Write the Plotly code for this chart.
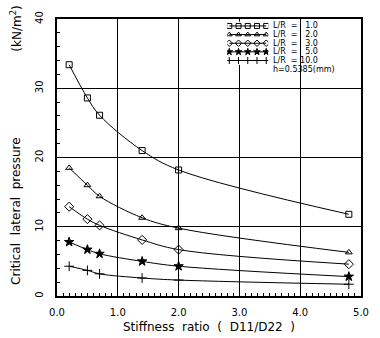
import plotly.graph_objects as go

stiffness = [0.2, 0.5, 0.7, 1.4, 2.0, 4.8]
p_lr1 = [33.4, 28.6, 26.1, 21.0, 18.2, 11.8]
p_lr2 = [18.5, 16.0, 14.4, 11.3, 9.8, 6.3]
p_lr3 = [12.9, 11.1, 10.2, 8.1, 6.7, 4.6]
p_lr5 = [7.8, 6.7, 6.1, 5.0, 4.3, 2.8]
p_lr10 = [4.3, 3.7, 3.2, 2.6, 2.3, 1.7]

series_names = ["L/R  =   1.0", "L/R  =   2.0", "L/R  =   3.0", "L/R  =   5.0", "L/R  = 10.0"]
series_vals = [p_lr1, p_lr2, p_lr3, p_lr5, p_lr10]
symbols = ["square-open", "triangle-up-open", "diamond-open", "star", "cross-thin-open"]
sizes = [6, 6, 7, 7, 7]

legend_x = [0.05, 0.275, 0.5, 0.725, 0.95]

FONT = "DejaVu Sans"
fig = go.Figure()

for vals, sym, sz in zip(series_vals, symbols, sizes):
    fig.add_trace(go.Scatter(
        x=stiffness, y=vals, mode="lines+markers",
        line=dict(color="black", width=1, shape="spline", smoothing=1.0),
        marker=dict(symbol=sym, size=sz, color="black", line=dict(color="black", width=1)),
        showlegend=False, xaxis="x", yaxis="y"))

# legend samples on an overlay axis
rows = [5, 4, 3, 2, 1]
for i, (name, sym, sz) in enumerate(zip(series_names, symbols, sizes)):
    fig.add_trace(go.Scatter(
        x=legend_x, y=[rows[i]] * len(legend_x), mode="lines+markers",
        line=dict(color="black", width=1),
        marker=dict(symbol=sym, size=5, color="black", line=dict(color="black", width=1)),
        showlegend=False, xaxis="x2", yaxis="y2", hoverinfo="skip"))

fig.update_layout(
    width=380, height=338,
    margin=dict(l=57, r=11, t=16, b=42),
    paper_bgcolor="white", plot_bgcolor="white",
    font=dict(family=FONT, color="black", size=10),
    xaxis=dict(range=[0, 5], dtick=1, tickformat=".1f", showgrid=True, gridcolor="black", gridwidth=1,
               zeroline=False, showline=True, linecolor="black", linewidth=1.5, mirror=True,
               ticks="inside", ticklen=6, tickcolor="black",
               minor=dict(dtick=0.1, ticks="inside", ticklen=3, tickcolor="black", showgrid=False),
               tickfont=dict(size=10, family=FONT), ticklabelstandoff=6),
    yaxis=dict(range=[0, 40], dtick=10, showgrid=True, gridcolor="black", gridwidth=1,
               zeroline=False, showline=True, linecolor="black", linewidth=1.5, mirror=True,
               ticks="inside", ticklen=6, tickcolor="black",
               minor=dict(dtick=2, ticks="inside", ticklen=3, tickcolor="black", showgrid=False),
               tickangle=-90, tickfont=dict(size=10, family=FONT), ticklabelstandoff=8),
    xaxis2=dict(domain=[0.56, 0.695], range=[0, 1], visible=False, anchor="y2"),
    yaxis2=dict(domain=[0.8345, 0.9905], range=[0.5, 5.5], visible=False, anchor="x2"),
)

ann = []
label_y = [0.975, 0.944, 0.913, 0.881, 0.850]
for name, yy in zip(series_names, label_y):
    ann.append(dict(text=name, x=0.705, y=yy, xref="paper", yref="paper", xanchor="left", yanchor="middle",
                    showarrow=False, font=dict(size=8, family=FONT)))
ann.append(dict(text="h=0.5385(mm)", x=0.705, y=0.817, xref="paper", yref="paper", xanchor="left",
                yanchor="middle", showarrow=False, font=dict(size=8, family=FONT)))
ann.append(dict(text="Stiffness  ratio  (  D11/D22  )", x=0.5, y=-0.112, xref="paper", yref="paper",
                xanchor="center", yanchor="middle", showarrow=False, font=dict(size=12, family=FONT)))
ann.append(dict(text="Critical  lateral  pressure", x=-0.135, y=0.307, xref="paper", yref="paper",
                xanchor="center", yanchor="middle", textangle=-90, showarrow=False,
                font=dict(size=12, family=FONT)))
ann.append(dict(text="(kN/m<sup>2</sup>)", x=-0.135, y=0.965, xref="paper", yref="paper",
                xanchor="center", yanchor="middle", textangle=-90, showarrow=False,
                font=dict(size=12, family=FONT)))
fig.update_layout(annotations=ann)

fig.write_html("out.html")
